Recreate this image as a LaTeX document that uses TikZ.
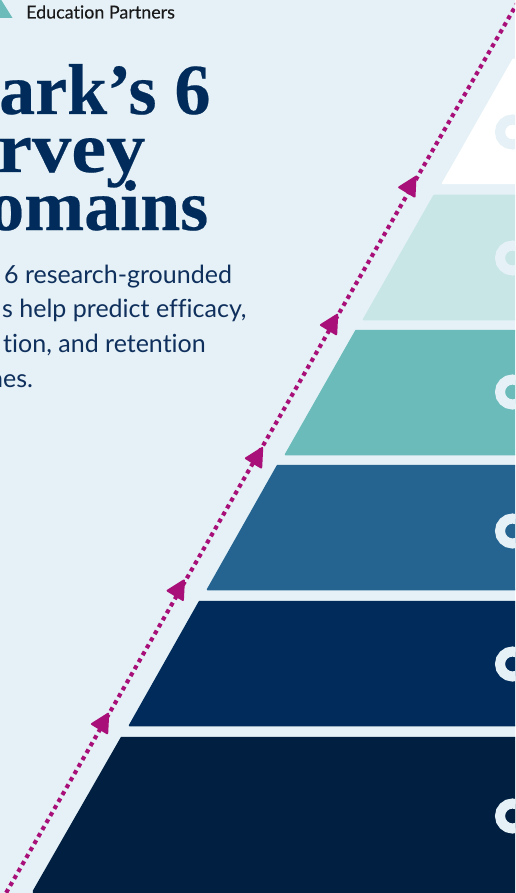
\documentclass[tikz,border=0pt]{standalone}
\usepackage{fontspec}
\setmainfont{Lato}[Ligatures=NoCommon]
\newfontfamily\headfont{Liberation Serif}[Ligatures=TeX]
\definecolor{bgc}{HTML}{E5F1F6}
\definecolor{navyc}{HTML}{002B5A}
\definecolor{inkc}{HTML}{0F2F5C}
\definecolor{magc}{HTML}{A90F78}
\definecolor{tealc}{HTML}{6ABBBA}
\definecolor{palec}{HTML}{C8E6E6}
\definecolor{bluec}{HTML}{256491}
\definecolor{deepc}{HTML}{012041}
\tikzset{
 tier/.style={line join=round,line width=1.5pt,draw=#1,fill=#1},
 ring/.style={draw=bgc,line width=10pt,fill=#1,circle,minimum size=25pt,inner sep=0pt,outer sep=0pt},
 headtxt/.style={anchor=base west,inner sep=0,text=navyc,font=\headfont\fontsize{72}{72}\selectfont\bfseries\addfontfeature{FakeBold=0.3}},
 bodytxt/.style={anchor=base west,inner sep=0,text=inkc,font=\fontsize{25}{25}\selectfont},
 dotline/.style={draw=magc,line width=4.1pt,dash pattern=on 4.1pt off 3.96pt,dash phase=6.2pt},
 arrowhd/.style={fill=magc,draw=magc,line width=2pt,line join=round}
}
\begin{document}
\begin{tikzpicture}[x=1pt,y=-1pt]
\useasboundingbox (0,0) rectangle (515,893);
\clip (0,0) rectangle (515,893);
\fill[bgc] (0,0) rectangle (515,893);
\fill[tealc] (-12,18) -- (0,-2) -- (12.5,18) -- cycle;
\node[anchor=base west,inner sep=0,text=black!90,font=\fontsize{17.9}{18}\selectfont\addfontfeature{FakeBold=0.25}] (logo) at (26,18.5) {Education Partners};
\node[headtxt] (h1) at (-1,114) {ark’s 6};
\node[headtxt,font=\headfont\fontsize{72}{72}\selectfont\bfseries\addfontfeature{FakeBold=0.3,FakeStretch=1.09}] (h2) at (-3,172) {rvey};
\node[headtxt] (h3) at (-12,230) {omains};
\node[bodytxt] (b1) at (4,283) {6 research-grounded};
\node[bodytxt] (b2) at (2,317) {s help predict efficacy,};
\node[bodytxt] (b3) at (3,352) {tion, and retention};
\node[bodytxt] (b4) at (-11,387) {nes.};
\draw[tier=white] (513,59.5) -- (525,59.5) -- (525,183.5) -- (442.5,183.5) -- cycle;
\draw[tier=palec] (434,195.5) -- (525,195.5) -- (525,319.5) -- (363.5,319.5) -- cycle;
\draw[tier=tealc] (356,330.5) -- (525,330.5) -- (525,454.5) -- (285.5,454.5) -- cycle;
\draw[tier=bluec] (277.5,465.5) -- (525,465.5) -- (525,589.5) -- (207.5,589.5) -- cycle;
\draw[tier=navyc] (199.5,601.5) -- (525,601.5) -- (525,725.5) -- (129.5,725.5) -- cycle;
\draw[tier=deepc] (121.5,737.5) -- (525,737.5) -- (525,900) -- (33.5,900) -- (33.5,891) -- cycle;
\node[ring=white] (r1) at (512.5,132) {};
\node[ring=palec] (r2) at (512.5,258) {};
\node[ring=tealc] (r3) at (512.5,392) {};
\node[ring=bluec] (r4) at (512.5,531) {};
\node[ring=navyc] (r5) at (512.5,664) {};
\node[ring=deepc] (r6) at (512.5,816) {};
\coordinate (ltop) at (519,0);
\coordinate (lbot) at (6,893);
\draw[dotline] (ltop) -- (lbot);
\foreach \x/\y in {399.2/187.3,320.9/325,245.9/458.3,167.6/590.7,91.9/724}
  \draw[arrowhd] (\x,\y) -- (\x+16.3,\y-10.3) -- (\x+15.3,\y+9.3) -- cycle;
\end{tikzpicture}
\end{document}
